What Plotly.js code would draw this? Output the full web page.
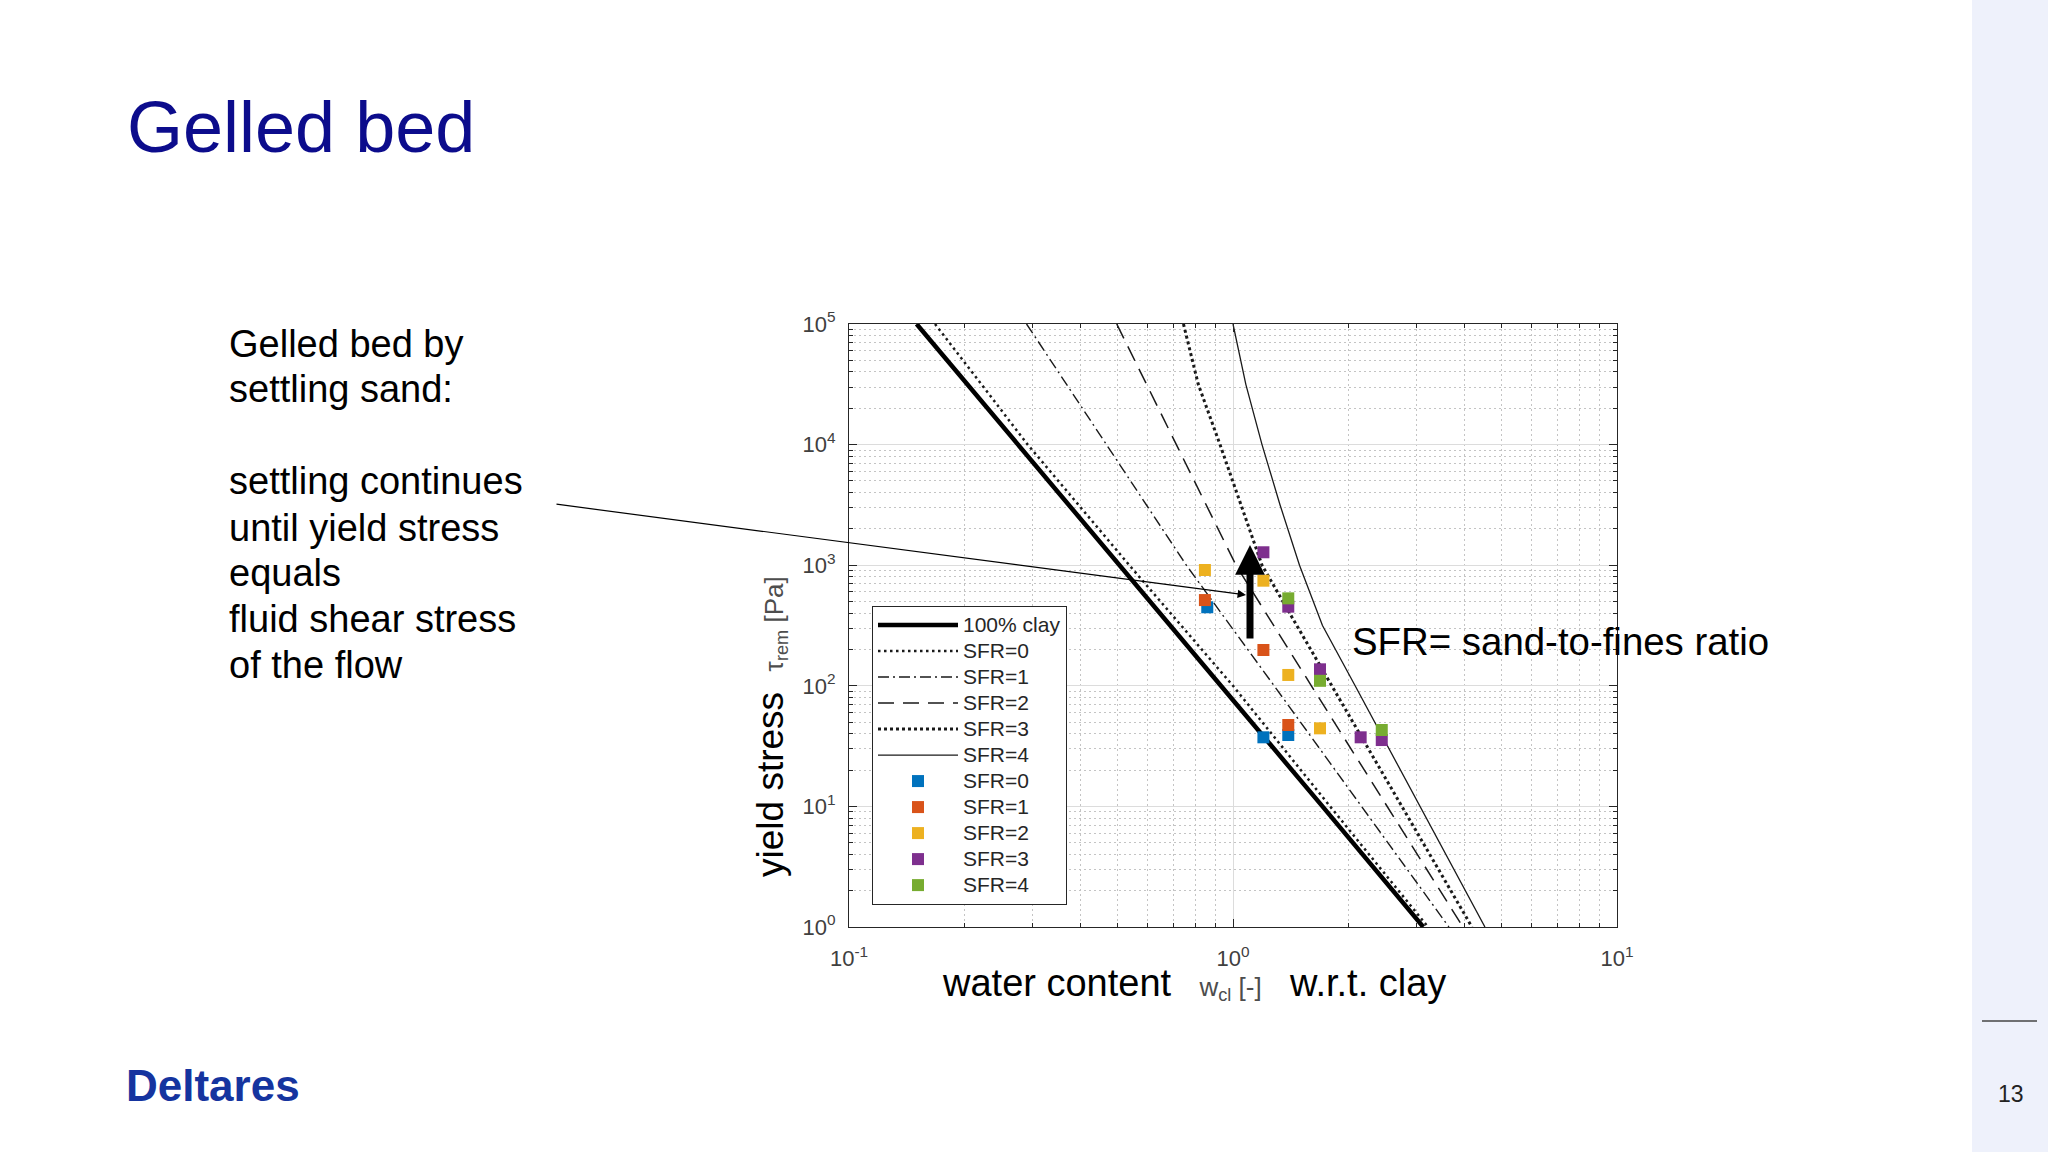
<!DOCTYPE html>
<html>
<head>
<meta charset="utf-8">
<script src="https://cdn.plot.ly/plotly-3.0.1.min.js"></script>
<style>
  html, body { margin: 0; padding: 0; background: #ffffff; overflow: hidden; }
  #chart { width: 2048px; height: 1152px; }
</style>
</head>
<body>
<div id="chart"></div>
<script>
// ---------- data ----------
// water content w_cl [-] along each model curve, and the yield stress [Pa] at those points
const tauLevels   = [100000, 10000, 1000, 100, 10, 1];
const tauLevels3  = [100000, 31600, 10000, 3160, 1000, 316, 100, 10, 1];
const tauLevels4  = [100000, 31600, 10000, 3160, 1000, 316, 100, 10, 1];

const clayW = [0.150, 0.275, 0.506, 0.93, 1.71, 3.13];
const sfr0W = [0.1675, 0.292, 0.537, 1.00, 1.79, 3.22];
const sfr1W = [0.290, 0.469, 0.756, 1.28, 2.16, 3.65];
const sfr2W = [0.498, 0.713, 1.018, 1.60, 2.52, 3.97];
const sfr3W = [0.743, 0.812, 0.925, 1.047, 1.19, 1.466, 1.81, 2.75, 4.19];
const sfr4W = [1.00, 1.08, 1.19, 1.326, 1.49, 1.71, 2.08, 3.07, 4.53];

// measured points (squares)
const meas0W = [0.857, 1.20, 1.393];
const meas0T = [448, 37.4, 39.1];
const meas1W = [0.845, 1.20, 1.393];
const meas1T = [514, 198, 47.3];
const meas2W = [0.845, 1.20, 1.393, 1.685];
const meas2T = [912, 744, 123, 44.4];
const meas3W = [1.20, 1.393, 1.685, 2.15, 2.44];
const meas3T = [1280, 453, 137, 37.4, 35.5];
const meas4W = [1.393, 1.685, 2.44];
const meas4T = [531, 110, 43];

// tick labels
const xTickVals = [0.1, 1, 10];
const xTickText = ['10<sup>-1</sup>', '10<sup>0</sup>', '10<sup>1</sup>'];
const yTickVals = [1, 10, 100, 1000, 10000, 100000];
const yTickText = ['10<sup>0</sup>', '10<sup>1</sup>', '10<sup>2</sup>', '10<sup>3</sup>', '10<sup>4</sup>', '10<sup>5</sup>'];

// legend names
const lineNames = ['100% clay', 'SFR=0', 'SFR=1', 'SFR=2', 'SFR=3', 'SFR=4'];
const pointNames = ['SFR=0', 'SFR=1', 'SFR=2', 'SFR=3', 'SFR=4'];

// texts
const slideTitle = 'Gelled bed';
const leftLines = ['Gelled bed by', 'settling sand:', 'settling continues', 'until yield stress', 'equals', 'fluid shear stress', 'of the flow'];
const sfrNote = 'SFR= sand-to-fines ratio';
const pageNo = '13';
const logoText = 'Deltares';

// ---------- figure ----------
const FONT = 'Liberation Sans, Arial, Helvetica, sans-serif';
const W = 2048, H = 1152;
const L = 849, R = 1617, T = 324, B = 927;          // plot area in pixels
const px = x => (x - L) / (R - L);                  // pixel -> paper
const py = y => (B - y) / (B - T);
const legName = s => '<span style="font-size:21px">' + s + '</span>';

function minorVals(lo, hi) {
  const v = [];
  for (let e = lo; e < hi; e++) for (let k = 2; k <= 9; k++) v.push(k * Math.pow(10, e));
  return v;
}

const lineCol = '#1a1a1a';
const ptCols = ['#0072BD', '#D95319', '#EDB120', '#7E2F8E', '#77AC30'];
const traces = [
  {x: clayW, y: tauLevels, name: legName(lineNames[0]), mode: 'lines', line: {color: '#000', width: 4.5}},
  {x: sfr0W, y: tauLevels, name: legName(lineNames[1]), mode: 'lines', line: {color: lineCol, width: 2.5, dash: '2.5px,3.5px'}},
  {x: sfr1W, y: tauLevels, name: legName(lineNames[2]), mode: 'lines', line: {color: lineCol, width: 1.4, dash: '11px,4px,2px,4px'}},
  {x: sfr2W, y: tauLevels, name: legName(lineNames[3]), mode: 'lines', line: {color: lineCol, width: 1.5, dash: '16px,9px'}},
  {x: sfr3W, y: tauLevels3, name: legName(lineNames[4]), mode: 'lines', line: {color: lineCol, width: 3.0, dash: '3px,3px'}},
  {x: sfr4W, y: tauLevels4, name: legName(lineNames[5]), mode: 'lines', line: {color: lineCol, width: 1.3}},
  {x: meas0W, y: meas0T, name: legName(pointNames[0]), mode: 'markers', marker: {symbol: 'square', size: 12, color: ptCols[0]}},
  {x: meas1W, y: meas1T, name: legName(pointNames[1]), mode: 'markers', marker: {symbol: 'square', size: 12, color: ptCols[1]}},
  {x: meas2W, y: meas2T, name: legName(pointNames[2]), mode: 'markers', marker: {symbol: 'square', size: 12, color: ptCols[2]}},
  {x: meas3W, y: meas3T, name: legName(pointNames[3]), mode: 'markers', marker: {symbol: 'square', size: 12, color: ptCols[3]}},
  {x: meas4W, y: meas4T, name: legName(pointNames[4]), mode: 'markers', marker: {symbol: 'square', size: 12, color: ptCols[4]}}
];

const axisCommon = {
  type: 'log',
  tickmode: 'array',
  ticks: 'inside', ticklen: 8, tickwidth: 1, tickcolor: '#262626',
  showline: true, linecolor: '#262626', linewidth: 1, mirror: 'allticks',
  showgrid: true, gridcolor: '#dcdcdc', gridwidth: 1,
  zeroline: false,
  tickfont: {family: FONT, size: 22, color: '#404040'}
};

const nb = '\u00a0';
const annotations = [];
// left text block
const leftY = [343.5, 389.2, 480.6, 527.6, 573.4, 619, 664.8];
leftLines.forEach((t, i) => annotations.push({
  xref: 'paper', yref: 'paper', x: px(227), y: py(leftY[i]), xanchor: 'left', yanchor: 'middle',
  text: t, showarrow: false, align: 'left', font: {family: FONT, size: 38, color: '#000'}
}));
// SFR note
annotations.push({xref: 'paper', yref: 'paper', x: px(1350), y: py(641), xanchor: 'left', yanchor: 'middle',
  text: sfrNote, showarrow: false, font: {family: FONT, size: 38.4, color: '#000'}});
// axis titles
annotations.push({xref: 'paper', yref: 'paper', x: px(1194), y: py(984), xanchor: 'center', yanchor: 'middle',
  showarrow: false, font: {family: FONT, size: 38, color: '#000'},
  text: 'water content' + nb + nb + '<span style="font-size:26px;color:#4d4d4d">' + nb + 'w<sub>cl</sub> [-]' + nb + '</span>' + nb + nb + 'w.r.t. clay'});
annotations.push({xref: 'paper', yref: 'paper', x: px(771), y: py(727), xanchor: 'center', yanchor: 'middle',
  textangle: -90, showarrow: false, font: {family: FONT, size: 37, color: '#000'},
  text: 'yield stress' + nb + nb + '<span style="font-size:26px;color:#4d4d4d">\u03c4<sub>rem</sub> [Pa]</span>'});
// thin pointer from the text to the gelled bed
annotations.push({xref: 'paper', yref: 'paper', x: px(1246), y: py(595), ax: 555 - 1246, ay: 504 - 595,
  text: '', showarrow: true, arrowhead: 2, arrowsize: 1.4, arrowwidth: 1.2, arrowcolor: '#000'});
// thick upward arrow
annotations.push({xref: 'paper', yref: 'paper', x: px(1250), y: py(545), ax: 0, ay: 95,
  text: '', showarrow: true, arrowhead: 2, arrowsize: 0.85, arrowwidth: 7, arrowcolor: '#000'});
// logo and page number
annotations.push({xref: 'paper', yref: 'paper', x: px(124), y: py(1085), xanchor: 'left', yanchor: 'middle',
  text: '<b>' + logoText + '</b>', showarrow: false, font: {family: FONT, size: 44, color: '#15349f'}});
annotations.push({xref: 'paper', yref: 'paper', x: px(2011), y: py(1094), xanchor: 'center', yanchor: 'middle',
  text: pageNo, showarrow: false, font: {family: FONT, size: 23, color: '#222'}});

const layout = {
  width: W, height: H,
  margin: {l: L, r: W - R, t: T, b: H - B, pad: 0},
  paper_bgcolor: '#ffffff', plot_bgcolor: '#ffffff',
  title: {text: slideTitle, font: {family: FONT, size: 72, color: '#0c0c8c'},
          x: 127 / W, xref: 'container', xanchor: 'left', y: 1 - 127 / H, yref: 'container', yanchor: 'middle'},
  xaxis: Object.assign({}, axisCommon, {
    range: [-1, 1], tickvals: xTickVals, ticktext: xTickText, ticklabelstandoff: 12,
    minor: {tickmode: 'array', tickvals: minorVals(-1, 1), ticks: 'inside', ticklen: 4, tickcolor: '#262626',
            showgrid: true, gridcolor: '#c4c4c4', griddash: '2px,3px', gridwidth: 1}
  }),
  yaxis: Object.assign({}, axisCommon, {
    range: [0, 5], tickvals: yTickVals, ticktext: yTickText, ticklabelstandoff: 8,
    minor: {tickmode: 'array', tickvals: minorVals(0, 5), ticks: 'inside', ticklen: 4, tickcolor: '#262626',
            showgrid: true, gridcolor: '#c4c4c4', griddash: '2px,3px', gridwidth: 1}
  }),
  showlegend: true,
  legend: {x: px(872), y: py(606), xanchor: 'left', yanchor: 'top', bgcolor: '#ffffff',
           bordercolor: '#262626', borderwidth: 1, font: {family: FONT, size: 17.7, color: '#262626'},
           itemwidth: 80, tracegroupgap: 0},
  shapes: [
    {type: 'rect', xref: 'paper', yref: 'paper', x0: px(1972), x1: px(2060), y0: py(1170), y1: py(-20),
     fillcolor: '#eef1fb', line: {width: 0}, layer: 'below'},
    {type: 'line', xref: 'paper', yref: 'paper', x0: px(1982), x1: px(2037), y0: py(1021), y1: py(1021),
     line: {color: '#444', width: 1.5}}
  ],
  annotations: annotations
};

Plotly.newPlot('chart', traces, layout, {displayModeBar: false, staticPlot: true});
</script>
</body>
</html>
